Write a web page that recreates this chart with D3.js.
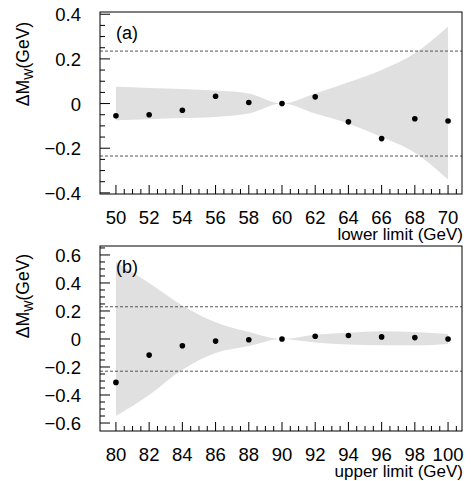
<!DOCTYPE html><html><head><meta charset="utf-8"><script src="https://cdn.jsdelivr.net/npm/d3@7"></script>
<style>body{margin:0;background:#fff}text{font-family:"Liberation Sans",Arial,sans-serif}</style></head><body>
<svg id="c" width="471" height="481"></svg>
<script>
const xA=[50,52,54,56,58,60,62,64,66,68,70];
const ptsA=[-0.055,-0.05,-0.03,0.033,0.005,0,0.03,-0.082,-0.157,-0.068,-0.078];
const upA=[0.075,0.07,0.065,0.058,0.045,0,0.045,0.095,0.15,0.225,0.345];
const loA=[-0.075,-0.07,-0.065,-0.06,-0.045,0,-0.045,-0.09,-0.15,-0.22,-0.34];
const xB=[80,82,84,86,88,90,92,94,96,98,100];
const ptsB=[-0.31,-0.115,-0.048,-0.015,-0.005,0,0.02,0.025,0.015,0.01,0];
const upB=[0.55,0.4,0.24,0.12,0.05,0,0.03,0.045,0.055,0.05,0.035];
const loB=[-0.55,-0.4,-0.22,-0.1,-0.05,0,-0.025,-0.04,-0.045,-0.045,-0.035];
const yTicksA=[-0.4,-0.2,0,0.2,0.4], yTicksB=[-0.6,-0.4,-0.2,0,0.2,0.4,0.6];
const svg=d3.select("#c");
function panel(o){
 const g=svg.append("g");
 const x=d3.scaleLinear().domain(o.xd).range([100,462]);
 const y=d3.scaleLinear().domain(o.yd).range([o.bot,o.top]);
 const data=o.xs.map((v,i)=>({x:v,p:o.p[i],u:o.u[i],l:o.l[i]}));
 g.append("path").datum(data).attr("fill","#e0e0e0")
  .attr("d",d3.area().curve(d3.curveMonotoneX).x(d=>x(d.x)).y0(d=>y(d.l)).y1(d=>y(d.u)));
 [o.dash,-o.dash].forEach(v=>g.append("line").attr("x1",100).attr("x2",462).attr("y1",y(v)).attr("y2",y(v))
  .attr("stroke","#555").attr("stroke-dasharray","3,2").attr("stroke-width",1));
 g.selectAll("circle.p").data(data).enter().append("circle").attr("cx",d=>x(d.x)).attr("cy",d=>y(d.p)).attr("r",2.8).attr("fill","#000");
 g.append("rect").attr("x",100).attr("y",o.top).attr("width",362).attr("height",o.bot-o.top).attr("fill","none").attr("stroke","#000").attr("stroke-width",1);
 const x0=o.xs[0];
 for(let v=x0;v<=o.xd[1];v+=0.5){const maj=Math.abs((v-x0)%2)<1e-6;
  g.append("line").attr("x1",x(v)).attr("x2",x(v)).attr("y1",o.bot).attr("y2",o.bot-(maj?9:5)).attr("stroke","#000");}
 o.xs.forEach(v=>g.append("text").attr("x",x(v)).attr("y",o.bot+30).attr("text-anchor","middle").attr("font-size",18.5).text(v));
 for(let v=o.yt[0];v<=o.yd[1]+1e-9;v+=0.05){const maj=o.yt.some(t=>Math.abs(t-v)<1e-6);
  g.append("line").attr("x1",100).attr("x2",100+(maj?10:5)).attr("y1",y(v)).attr("y2",y(v)).attr("stroke","#000");}
 o.yt.forEach(v=>g.append("text").attr("x",81).attr("y",y(v)+7).attr("text-anchor","end").attr("font-size",18.5).text(v===0?"0":d3.format(".1f")(v)));
 g.append("text").attr("x",463).attr("y",o.bot+46).attr("text-anchor","end").attr("font-size",17).text(o.xl);
 g.append("text").attr("x",116).attr("y",o.top+27).attr("font-size",18).text(o.lab);
 const t=g.append("text").attr("transform",`translate(29,${o.tcy}) rotate(-90)`).attr("text-anchor","middle").attr("font-size",17.5);
 t.append("tspan").text("ΔM");t.append("tspan").attr("font-size",12).attr("dy",4).text("W");t.append("tspan").attr("dy",-4).text("(GeV)");
}
panel({xs:xA,p:ptsA,u:upA,l:loA,xd:[49.04,70.84],yd:[-0.405,0.41],top:12,bot:194,yt:yTicksA,dash:0.235,xl:"lower limit (GeV)",lab:"(a)",tcy:64});
panel({xs:xB,p:ptsB,u:upB,l:loB,xd:[79.04,100.84],yd:[-0.657,0.664],top:246,bot:431,yt:yTicksB,dash:0.23,xl:"upper limit (GeV)",lab:"(b)",tcy:296});
</script></body></html>
